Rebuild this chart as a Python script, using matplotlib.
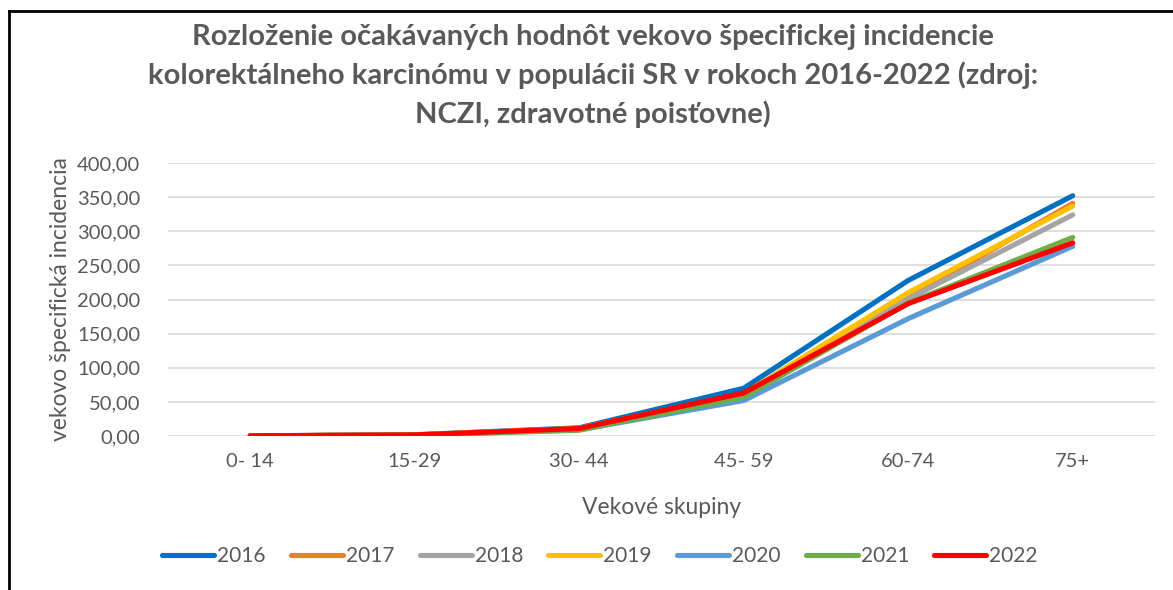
import matplotlib.pyplot as plt
from matplotlib.lines import Line2D
from matplotlib.ticker import FuncFormatter

plt.rcParams["font.family"] = ["Lato", "DejaVu Sans"]

categories = ["0- 14", "15-29", "30- 44", "45- 59", "60-74", "75+"]
years = ["2016", "2017", "2018", "2019", "2020", "2021", "2022"]
colors = ["#0070c0", "#ed7d31", "#a5a5a5", "#ffc000", "#5b9bd5", "#70ad47", "#ff0000"]

v2016 = [0.3, 1.8, 12.0, 70.0, 228.0, 352.0]
v2017 = [0.2, 1.6, 11.0, 61.0, 202.0, 341.0]
v2018 = [0.2, 1.5, 10.5, 59.0, 201.0, 324.0]
v2019 = [0.2, 1.6, 11.0, 62.0, 210.0, 337.0]
v2020 = [0.2, 1.3, 9.0, 52.0, 172.0, 278.0]
v2021 = [0.2, 1.3, 8.5, 57.0, 195.0, 291.0]
v2022 = [0.3, 1.6, 11.0, 63.0, 194.0, 283.0]
series = [v2016, v2017, v2018, v2019, v2020, v2021, v2022]

fig = plt.figure(figsize=(11.73, 5.90), dpi=100)
W, H = 1173, 590
ax = fig.add_axes([168 / W, 1 - 436 / H, (1155 - 168) / W, (436 - 163) / H])

x = range(len(categories))
for year, vals, col in zip(years, series, colors):
    ax.plot(x, vals, color=col, linewidth=3.7, solid_capstyle="round",
            solid_joinstyle="round", label=year)

ax.set_xlim(-0.5, len(categories) - 0.5)
ax.set_ylim(0, 400)
ax.set_yticks(range(0, 401, 50))
ax.yaxis.set_major_formatter(FuncFormatter(lambda v, _: f"{v:.2f}".replace(".", ",")))
ax.set_xticks(list(x))
ax.set_xticklabels(categories)
ax.grid(axis="y", color="#d9d9d9", linewidth=1.2)
ax.set_axisbelow(True)
for s in ax.spines.values():
    s.set_visible(False)
ax.tick_params(length=0, labelsize=14.5, colors="#595959")
ax.tick_params(axis="y", pad=20)
ax.tick_params(axis="x", pad=12)

ax.set_ylabel("vekovo špecifická incidencia", fontsize=16.5, color="#595959", labelpad=4)
ax.set_xlabel("Vekové skupiny", fontsize=16.5, color="#595959", labelpad=20)

fig.text(593 / W, 1 - 76 / H,
         "Rozloženie očakávaných hodnôt vekovo špecifickej incidencie\n"
         "kolorektálneho karcinómu v populácii SR v rokoch 2016-2022 (zdroj:\n"
         "NCZI, zdravotné poisťovne)",
         ha="center", va="center", fontsize=21, fontweight="bold",
         color="#595959", linespacing=1.5)

handles = [Line2D([], [], color=c, linewidth=3.7, solid_capstyle="round") for c in colors]
fig.legend(handles, years, loc="center", bbox_to_anchor=(600 / W, 1 - 556 / H),
           ncol=7, frameon=False, fontsize=15, handlelength=2.5,
           handletextpad=0.15, columnspacing=1.2, labelcolor="#595959")

# chart border
fig.add_artist(Line2D([9 / W, 9 / W], [0, 1 - 11 / H], transform=fig.transFigure,
                      color="black", linewidth=2))
fig.add_artist(Line2D([9 / W, 1], [1 - 11 / H, 1 - 11 / H], transform=fig.transFigure,
                      color="black", linewidth=2))

fig.savefig("out.png", dpi=100)
